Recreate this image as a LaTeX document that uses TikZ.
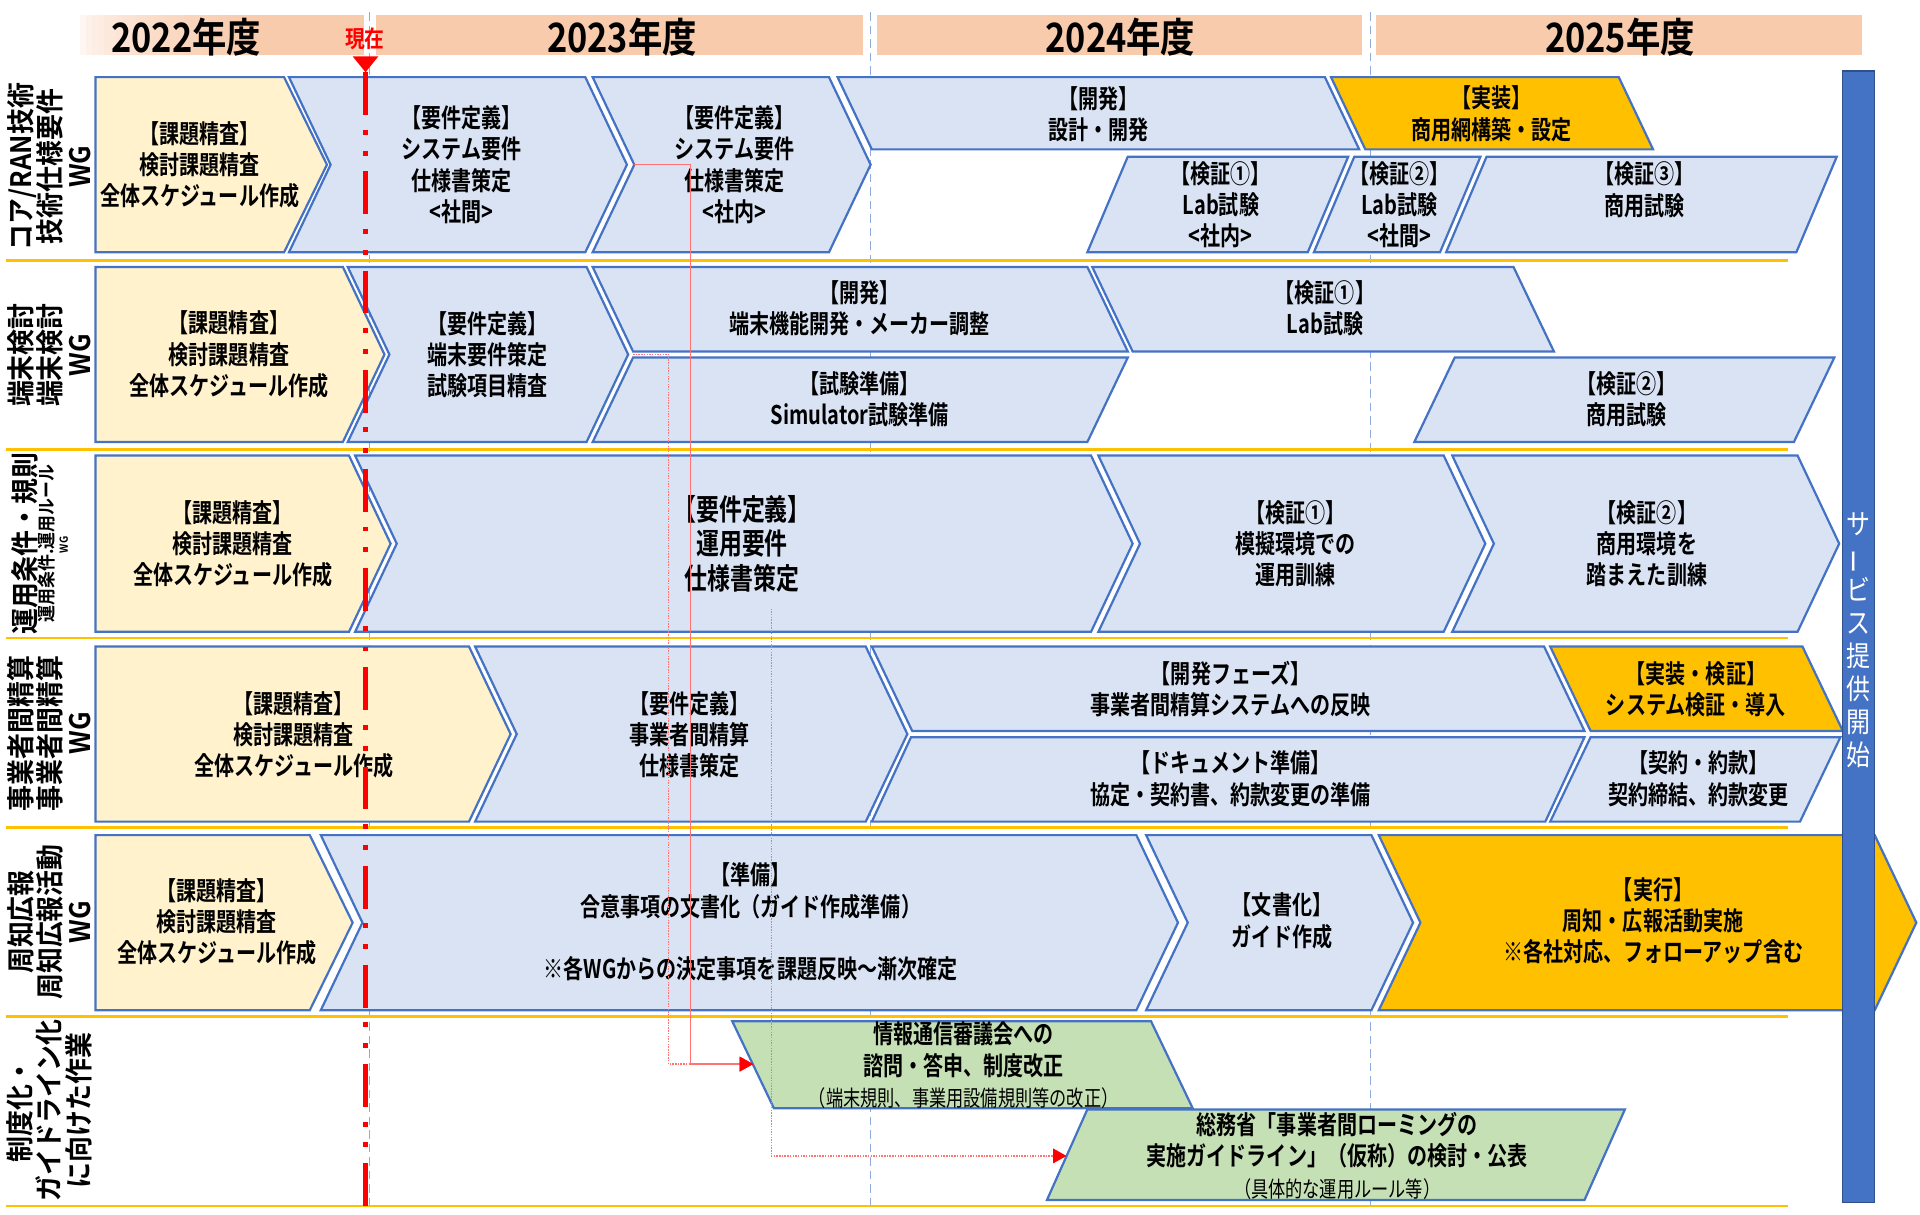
\documentclass[tikz,border=0pt]{standalone}
\usepackage{fontspec}
\setmainfont{Noto Sans CJK JP}[FakeStretch=0.85,BoldFont={Noto Sans CJK JP Bold}]
\newfontfamily\boxfont{Noto Sans CJK JP}[FakeStretch=0.78,BoldFont={Noto Sans CJK JP Bold}]
\newfontfamily\lblfont{Noto Sans CJK JP}[FakeStretch=0.92,BoldFont={Noto Sans CJK JP Bold}]
\usetikzlibrary{arrows.meta}

\definecolor{wgblue}{HTML}{4472C4}
\definecolor{boxblue}{HTML}{DAE3F3}
\definecolor{boxyel}{HTML}{FFF2CC}
\definecolor{boxgold}{HTML}{FFC000}
\definecolor{boxgreen}{HTML}{C5E0B4}
\definecolor{yearbar}{HTML}{F8CBAD}
\definecolor{gridblue}{HTML}{8FAADC}

% [style]{left}{right}{slant}{top}{bottom}
\newcommand{\pent}[6][]{\draw[box,#1] (#2,#5) -- (#3,#5) -- ({#3+#4},{(#5+#6)/2}) -- (#3,#6) -- (#2,#6) -- cycle;}
\newcommand{\chev}[6][]{\draw[box,#1] (#2,#5) -- (#3,#5) -- ({#3+#4},{(#5+#6)/2}) -- (#3,#6) -- (#2,#6) -- ({#2+#4},{(#5+#6)/2}) -- cycle;}
\newcommand{\parR}[6][]{\draw[box,#1] (#2,#5) -- (#3,#5) -- ({#3+#4},#6) -- ({#2+#4},#6) -- cycle;}
\newcommand{\parL}[6][]{\draw[box,#1] ({#2+#4},#5) -- ({#3+#4},#5) -- (#3,#6) -- (#2,#6) -- cycle;}
\newcommand{\notefont}{\mdseries\fontsize{18}{19}\selectfont}
\newcommand{\kadai}{【課題精査】\\検討課題精査\\全体スケジュール作成}

\begin{document}
\begin{tikzpicture}[x=1pt,y=-1pt,
  box/.style={draw=wgblue,line width=1.8pt,fill=boxblue},
  fillyel/.style={fill=boxyel},
  fillgold/.style={fill=boxgold},
  fillgreen/.style={fill=boxgreen},
  txt/.style={align=center,inner sep=0pt,font=\boxfont\bfseries\fontsize{21}{25.5}\selectfont},
  lbl/.style={rotate=90,align=center,inner sep=0pt,font=\lblfont\bfseries\fontsize{23}{24}\selectfont},
  yearlbl/.style={inner sep=0pt,font=\bfseries\fontsize{33}{33}\selectfont},
  yeargrid/.style={gridblue,line width=1pt,dash pattern=on 7pt off 4pt},
  sepline/.style={boxgold,line width=2.2pt},
  link/.style={red!55,line width=1.2pt,-{Triangle[length=11pt,width=12pt,color=red]}}]
\useasboundingbox (0,0) rectangle (1568,992);

% years
\foreach \i in {0,...,28}{
  \pgfmathtruncatemacro\pct{100*sqrt(\i/28)}
  \fill[yearbar!\pct!white] ({60+\i*5},12) rectangle ({65.6+\i*5},45);
}
\fill[yearbar] (205,12) rectangle (297,45);
\foreach \xa/\xb in {307/705,716/1112,1124/1521}
  \fill[yearbar] (\xa,12) rectangle (\xb,45);
\foreach \yr/\x in {2022/152,2023/508,2024/915,2025/1323}
  \node[yearlbl] (y\yr) at (\x,30) {{\yr}年度};
\foreach \x in {302,711,1119}
  \draw[yeargrid] (\x,10) -- (\x,985);
\foreach \y in {213,367,521,676,830,985}
  \draw[sepline] (5,\y) -- (1460,\y);

% row labels
\node[lbl] (wg1) at (40,136) {コア/RAN技術\\技術仕様要件\\WG};
\node[lbl] (wg2) at (40,290) {端末検討\\端末検討\\WG};
\node[lbl] (wg3a) at (20,444) {運用条件・規則};
\node[lbl,font=\lblfont\bfseries\fontsize{15}{15}\selectfont] (wg3b) at (38,444) {運用条件.運用ルール};
\node[lbl,font=\lblfont\bfseries\fontsize{9}{9}\selectfont] (wg3c) at (52,445) {WG};
\node[lbl] (wg4) at (40,599) {事業者間精算\\事業者間精算\\WG};
\node[lbl] (wg5) at (40,753) {周知広報\\周知広報活動\\WG};
\node[lbl] (wg6) at (40,907) {制度化・\\ガイドライン化\\に向けた作業};

% row 1
\pent[fillyel]{78}{232}{35}{63}{206}
\node[txt] (kadai1) at (163,134.5) {\kadai};
\chev{236}{478}{34}{63}{206}
\node[txt] (yoken1a) at (377,134.5) {【要件定義】\\システム要件\\仕様書策定\\<社間>};
\chev{484}{677}{34}{63}{206}
\node[txt] (yoken1b) at (600,134.5) {【要件定義】\\システム要件\\仕様書策定\\<社内>};
\parR{684}{1082}{28}{63}{122}
\node[txt] (kaihatsu1) at (897,93) {【開発】\\設計・開発};
\parR[fillgold]{1087}{1322}{28}{63}{122}
\node[txt] (jisso1) at (1218,93) {【実装】\\商用網構築・設定};
\parL{888}{1068}{33}{128}{206}
\node[txt] (kensho1a) at (997,167) {【検証①】\\Lab試験\\<社内>};
\parL{1073}{1176}{33}{128}{206}
\node[txt] (kensho1b) at (1143,167) {【検証②】\\Lab試験\\<社間>};
\parL{1181}{1467}{33}{128}{206}
\node[txt] (kensho1c) at (1343,155) {【検証③】\\商用試験};

% row 2
\pent[fillyel]{78}{280}{34}{218}{361}
\node[txt] (kadai2) at (187,289.5) {\kadai};
\chev{284}{479}{34}{218}{361}
\node[txt] (yoken2) at (398,289.5) {【要件定義】\\端末要件策定\\試験項目精査};
\parR{484}{888}{33}{218}{287}
\node[txt] (kaihatsu2) at (702,252) {【開発】\\端末機能開発・メーカー調整};
\parL{484}{888}{33}{292}{361}
\node[txt] (junbi2) at (702,326) {【試験準備】\\Simulator試験準備};
\parR{892}{1236}{33}{218}{287}
\node[txt] (kensho2a) at (1082,252) {【検証①】\\Lab試験};
\parL{1155}{1465}{33}{292}{361}
\node[txt] (kensho2b) at (1328,326) {【検証②】\\商用試験};

% row 3
\pent[fillyel]{78}{285}{34}{372}{516}
\node[txt] (kadai3) at (190,444) {\kadai};
\chev{290}{891}{34}{372}{516}
\node[txt,font=\boxfont\bfseries\fontsize{24}{28}\selectfont] (yoken3) at (606,444) {【要件定義】\\運用要件\\仕様書策定};
\chev{897}{1179}{34}{372}{516}
\node[txt] (kensho3a) at (1058,444) {【検証①】\\模擬環境での\\運用訓練};
\chev{1186}{1468}{34}{372}{516}
\node[txt] (kensho3b) at (1345,444) {【検証②】\\商用環境を\\踏まえた訓練};

% row 4
\pent[fillyel]{78}{383}{34}{528}{671}
\node[txt] (kadai4) at (240,600) {\kadai};
\chev{388}{707}{34}{528}{671}
\node[txt] (yoken4) at (563,600) {【要件定義】\\事業者間精算\\仕様書策定};
\parR{712}{1261}{33}{528}{597}
\node[txt] (kaihatsu4) at (1005,563) {【開発フェーズ】\\事業者間精算システムへの反映};
\parR[fillgold]{1266}{1472}{33}{528}{597}
\node[txt] (jisso4) at (1385,563) {【実装・検証】\\システム検証・導入};
\parL{712}{1262}{32}{602}{671}
\node[txt] (doc4) at (1005,636) {【ドキュメント準備】\\協定・契約書、約款変更の準備};
\parL{1266}{1470}{33}{602}{671}
\node[txt] (keiyaku4) at (1387,636) {【契約・約款】\\契約締結、約款変更};

% row 5
\pent[fillyel]{78}{253}{35}{682}{825}
\node[txt] (kadai5) at (177,753) {\kadai};
\chev{262}{928}{34}{682}{825}
\node[txt] (junbi5) at (613,753) {【準備】\\合意事項の文書化（ガイド作成準備）\\[25.5pt]※各WGからの決定事項を課題反映～漸次確定};
\chev{936}{1120}{34}{682}{825}
\node[txt] (bunsho5) at (1047,752) {【文書化】\\ガイド作成};
\chev[fillgold]{1126}{1531}{34}{682}{825}
\node[txt] (jikko5) at (1350,752) {【実行】\\周知・広報活動実施\\※各社対応、フォローアップ含む};

% row 6
\parR[fillgreen]{598}{940}{34}{834}{905}
\node[txt] (shingi6) at (787,870) {情報通信審議会への\\諮問・答申、制度改正\\{\notefont （端末規則、事業用設備規則等の改正）}};
\parL[fillgreen]{855}{1294}{33}{906}{980}
\node[txt] (guide6) at (1092,944) {総務省「事業者間ローミングの\\実施ガイドライン」（仮称）の検討・公表\\{\notefont （具体的な運用ルール等）}};

% service start
\draw[fill=wgblue,draw=wgblue!70!black,line width=1pt] (1505,58) rectangle (1531,982);
\node[align=center,text=white,inner sep=0pt,font=\fontsize{23}{27}\selectfont] (service) at (1518,523)
  {サ\\\rotatebox[origin=c]{90}{ー}\\ビ\\ス\\提\\供\\開\\始};

% now
\node[text=red,inner sep=0pt,font=\bfseries\fontsize{19}{19}\selectfont] (genzai) at (298,32) {現在};
\coordinate (nowtop) at (298.5,59);
\coordinate (nowend) at (298.5,985);
\fill[red] (288,46) -- (309,46) -- (nowtop) -- cycle;
\draw[red,line width=3.5pt,dash pattern=on 35pt off 12pt on 4pt off 13pt on 4pt off 13pt] (nowtop) -- (nowend);

% links
\coordinate (c1s) at (518,134.5);
\coordinate (c2s) at (517,289.5);
\coordinate (c3s) at (630,497);
\coordinate (g1in) at (615,869);
\coordinate (g2in) at (871,944);
\draw[link] (c1s) -- ++(46,0) |- (g1in);
\draw[link,densely dotted] (c2s) -- ++(29,0) |- (g1in);
\draw[link,densely dotted] (c3s) |- (g2in);
\end{tikzpicture}
\end{document}
